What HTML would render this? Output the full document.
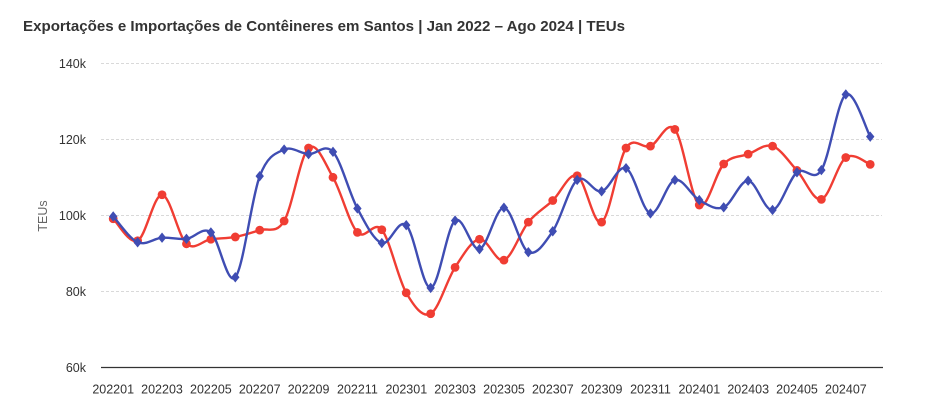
<!DOCTYPE html>
<html>
<head>
<meta charset="utf-8">
<style>
html,body{margin:0;padding:0;background:#fff;}
svg{display:block;}
text{font-family:"Liberation Sans",Arial,sans-serif;}
</style>
</head>
<body>
<svg id="c" width="939" height="410" viewBox="0 0 939 410" xmlns="http://www.w3.org/2000/svg">
  <rect width="939" height="410" fill="#fff"/>
  <text x="23" y="31" font-size="15" font-weight="bold" fill="#333" textLength="602" lengthAdjust="spacingAndGlyphs">Exportações e Importações de Contêineres em Santos | Jan 2022 – Ago 2024 | TEUs</text>
  <g stroke="#d9d9d9" stroke-width="1" stroke-dasharray="3,2">
    <line x1="101" y1="63.5" x2="882" y2="63.5"/>
    <line x1="101" y1="139.5" x2="882" y2="139.5"/>
    <line x1="101" y1="215.5" x2="882" y2="215.5"/>
    <line x1="101" y1="291.5" x2="882" y2="291.5"/>
  </g>
  <line x1="101" y1="367.5" x2="883" y2="367.5" stroke="#333" stroke-width="1.2"/>
  <g font-size="12.5" fill="#333" text-anchor="end">
    <text x="86" y="68">140k</text>
    <text x="86" y="144">120k</text>
    <text x="86" y="220">100k</text>
    <text x="86" y="296">80k</text>
    <text x="86" y="372">60k</text>
  </g>
  <text transform="translate(47,216) rotate(-90)" font-size="12.5" fill="#666" text-anchor="middle">TEUs</text>
  <g font-size="12.5" fill="#333" text-anchor="middle">
    <text x="113.2" y="393.5">202201</text>
    <text x="162.0" y="393.5">202203</text>
    <text x="210.9" y="393.5">202205</text>
    <text x="259.7" y="393.5">202207</text>
    <text x="308.6" y="393.5">202209</text>
    <text x="357.4" y="393.5">202211</text>
    <text x="406.3" y="393.5">202301</text>
    <text x="455.1" y="393.5">202303</text>
    <text x="504.0" y="393.5">202305</text>
    <text x="552.8" y="393.5">202307</text>
    <text x="601.6" y="393.5">202309</text>
    <text x="650.5" y="393.5">202311</text>
    <text x="699.3" y="393.5">202401</text>
    <text x="748.2" y="393.5">202403</text>
    <text x="797.0" y="393.5">202405</text>
    <text x="845.9" y="393.5">202407</text>
  </g>
  <g id="series"></g>
</svg>
<script>
(function(){
  var blue=[99.7,92.9,94.1,93.8,95.5,83.7,110.3,117.3,116.1,116.7,101.8,92.7,97.4,80.9,98.6,91.1,102.0,90.3,95.8,109.3,106.3,112.4,100.5,109.3,104.0,102.1,109.1,101.4,111.3,111.9,131.8,120.7];
  var red=[99.1,93.3,105.4,92.5,93.7,94.3,96.1,98.5,117.7,110.0,95.5,96.2,79.6,74.1,86.3,93.7,88.2,98.2,103.9,110.4,98.2,117.7,118.2,122.6,102.7,113.5,116.1,118.2,111.8,104.2,115.2,113.4];
  function X(i){return 113.2+i*24.42;}
  function Y(v){return 215.3-(v-100)*3.8;}
  function path(d){
    var p=d.map(function(v,i){return [X(i),Y(v)];});
    var s="M"+p[0][0].toFixed(2)+","+p[0][1].toFixed(2);
    var t=1/6;
    for(var i=0;i<p.length-1;i++){
      var p0=p[Math.max(i-1,0)],p1=p[i],p2=p[i+1],p3=p[Math.min(i+2,p.length-1)];
      var c1x=p1[0]+(p2[0]-p0[0])*t,c1y=p1[1]+(p2[1]-p0[1])*t;
      var c2x=p2[0]-(p3[0]-p1[0])*t,c2y=p2[1]-(p3[1]-p1[1])*t;
      s+=" C"+c1x.toFixed(2)+","+c1y.toFixed(2)+" "+c2x.toFixed(2)+","+c2y.toFixed(2)+" "+p2[0].toFixed(2)+","+p2[1].toFixed(2);
    }
    return s;
  }
  var ns="http://www.w3.org/2000/svg";
  var g=document.getElementById("series");
  function el(n,a){var e=document.createElementNS(ns,n);for(var k in a)e.setAttribute(k,a[k]);g.appendChild(e);return e;}
  el("path",{d:path(red),fill:"none",stroke:"#f03d33","stroke-width":"2.4"});
  red.forEach(function(v,i){el("circle",{cx:X(i),cy:Y(v),r:"4.4",fill:"#f03d33"});});
  el("path",{d:path(blue),fill:"none",stroke:"#3f4db3","stroke-width":"2.4"});
  blue.forEach(function(v,i){var x=X(i),y=Y(v);
    el("path",{d:"M"+x+","+(y-5.2)+" L"+(x+4.2)+","+y+" L"+x+","+(y+5.2)+" L"+(x-4.2)+","+y+" Z",fill:"#3f4db3"});});
})();
</script>
</body>
</html>
